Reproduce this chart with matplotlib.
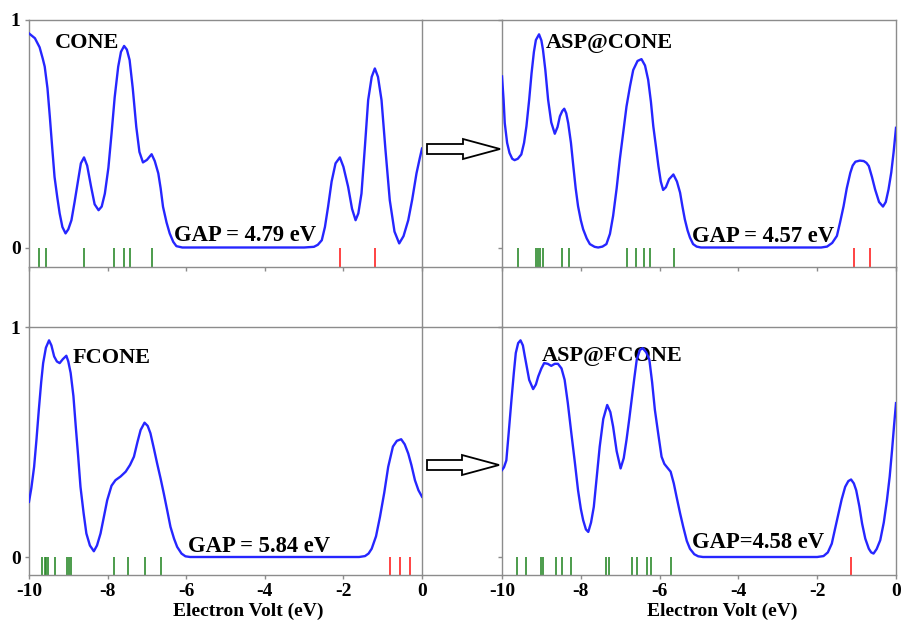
import matplotlib
matplotlib.use("Agg")
import matplotlib.pyplot as plt
from matplotlib.lines import Line2D
from matplotlib.patches import FancyArrow

W, H = 901, 621
plt.rcParams["axes.unicode_minus"] = False

#### DATA ####

# CONE
cone_e = [-10.0, -9.85, -9.73, -9.65, -9.6, -9.53, -9.47, -9.41, -9.35, -9.28, -9.22, -9.15, -9.07, -9.0,
          -8.92, -8.84, -8.75, -8.68, -8.6, -8.52, -8.42, -8.33, -8.23, -8.15, -8.07, -7.98, -7.9, -7.82,
          -7.73, -7.66, -7.58, -7.51, -7.44, -7.36, -7.27, -7.19, -7.1, -7.0, -6.88, -6.8, -6.71, -6.65,
          -6.59, -6.5, -6.42, -6.33, -6.25, -6.1, -3.0, -2.75, -2.65, -2.55, -2.47, -2.39, -2.3, -2.2,
          -2.09, -2.0, -1.88, -1.78, -1.69, -1.62, -1.54, -1.45, -1.37, -1.28, -1.2, -1.12, -1.03, -0.93,
          -0.82, -0.7, -0.58, -0.47, -0.35, -0.25, -0.14, -0.06, 0.0]
cone_dos = [0.941, 0.92, 0.88, 0.83, 0.795, 0.70, 0.575, 0.44, 0.31, 0.22, 0.15, 0.09, 0.062, 0.08,
            0.12, 0.20, 0.296, 0.37, 0.396, 0.36, 0.267, 0.19, 0.164, 0.18, 0.237, 0.35, 0.50, 0.66,
            0.795, 0.86, 0.886, 0.87, 0.824, 0.70, 0.53, 0.42, 0.374, 0.385, 0.41, 0.38, 0.326, 0.26,
            0.179, 0.11, 0.062, 0.025, 0.006, 0.0, 0.0, 0.003, 0.012, 0.032, 0.09, 0.179, 0.29, 0.37,
            0.396, 0.355, 0.267, 0.17, 0.12, 0.15, 0.237, 0.45, 0.648, 0.75, 0.787, 0.75, 0.648, 0.43,
            0.208, 0.07, 0.018, 0.05, 0.12, 0.21, 0.326, 0.39, 0.435]
cone_occ = [-9.745, -9.56, -8.61, -7.835, -7.58, -7.42, -6.86]
cone_virt = [-2.09, -1.2]

# ASP@CONE
asp_cone_e = [-10.0, -9.96, -9.93, -9.87, -9.81, -9.74, -9.68, -9.6, -9.51, -9.44, -9.38, -9.31, -9.25,
              -9.19, -9.14, -9.06, -9.0, -8.96, -8.9, -8.83, -8.75, -8.66, -8.59, -8.53, -8.47, -8.42,
              -8.37, -8.32, -8.25, -8.19, -8.13, -8.07, -8.0, -7.94, -7.85, -7.77, -7.65, -7.56, -7.45,
              -7.35, -7.26, -7.18, -7.09, -7.01, -6.92, -6.84, -6.75, -6.67, -6.56, -6.46, -6.37, -6.29,
              -6.22, -6.16, -6.09, -6.03, -5.97, -5.91, -5.84, -5.76, -5.65, -5.56, -5.48, -5.42, -5.36,
              -5.29, -5.23, -5.15, -5.06, -4.95, -1.9, -1.75, -1.62, -1.5, -1.42, -1.33, -1.25, -1.16,
              -1.1, -1.03, -0.92, -0.82, -0.75, -0.69, -0.61, -0.53, -0.43, -0.33, -0.26, -0.19, -0.12,
              -0.06, 0.0]
asp_cone_dos = [0.752, 0.65, 0.547, 0.46, 0.416, 0.39, 0.384, 0.39, 0.409, 0.46, 0.533, 0.65, 0.766,
                0.86, 0.912, 0.937, 0.91, 0.869, 0.78, 0.65, 0.55, 0.50, 0.53, 0.577, 0.60, 0.61,
                0.59, 0.547, 0.46, 0.358, 0.26, 0.182, 0.12, 0.08, 0.04, 0.015, 0.003, 0.0, 0.004,
                0.015, 0.06, 0.139, 0.26, 0.387, 0.51, 0.62, 0.71, 0.78, 0.82, 0.828, 0.80, 0.737,
                0.64, 0.533, 0.44, 0.358, 0.29, 0.253, 0.265, 0.30, 0.321, 0.29, 0.241, 0.18, 0.124,
                0.075, 0.044, 0.015, 0.004, 0.0, 0.0, 0.004, 0.02, 0.051, 0.11, 0.182, 0.26, 0.328,
                0.36, 0.377, 0.382, 0.38, 0.372, 0.358, 0.31, 0.255, 0.20, 0.18, 0.20, 0.255, 0.33,
                0.42, 0.526]
asp_cone_occ = [-9.59, -9.127, -9.085, -9.04, -8.96, -8.47, -8.31, -6.82, -6.60, -6.39, -6.25, -5.64]
asp_cone_virt = [-1.06, -0.65]

# FCONE
fcone_e = [-10.0, -9.94, -9.87, -9.81, -9.75, -9.69, -9.64, -9.57, -9.49, -9.43, -9.36, -9.29, -9.22,
           -9.14, -9.05, -9.0, -8.94, -8.87, -8.81, -8.75, -8.69, -8.61, -8.54, -8.45, -8.35, -8.27,
           -8.18, -8.1, -8.01, -7.9, -7.8, -7.67, -7.54, -7.43, -7.33, -7.24, -7.16, -7.06, -6.98,
           -6.91, -6.82, -6.74, -6.65, -6.57, -6.48, -6.4, -6.31, -6.23, -6.12, -6.02, -5.9, -1.6,
           -1.45, -1.36, -1.28, -1.17, -1.07, -0.96, -0.86, -0.74, -0.64, -0.53, -0.44, -0.35, -0.27,
           -0.18, -0.09, 0.0]
fcone_dos = [0.24, 0.30, 0.392, 0.51, 0.64, 0.76, 0.843, 0.91, 0.942, 0.92, 0.872, 0.85, 0.843,
             0.86, 0.875, 0.85, 0.80, 0.70, 0.567, 0.44, 0.305, 0.19, 0.102, 0.05, 0.025, 0.05,
             0.102, 0.17, 0.247, 0.31, 0.334, 0.35, 0.371, 0.40, 0.436, 0.50, 0.552, 0.584, 0.57,
             0.538, 0.47, 0.407, 0.34, 0.276, 0.20, 0.131, 0.08, 0.044, 0.015, 0.003, 0.0, 0.0,
             0.004, 0.015, 0.036, 0.09, 0.174, 0.28, 0.392, 0.48, 0.505, 0.512, 0.49, 0.45, 0.40,
             0.334, 0.29, 0.262]
fcone_occ = [-9.66, -9.60, -9.56, -9.51, -9.35, -9.03, -8.98, -8.94, -7.84, -7.49, -7.06, -6.63]
fcone_virt = [-0.81, -0.56, -0.30]

# ASP@FCONE
asp_fcone_e = [-10.0, -9.95, -9.89, -9.83, -9.76, -9.7, -9.65, -9.59, -9.53, -9.47, -9.42, -9.31, -9.21,
               -9.14, -9.08, -9.0, -8.93, -8.84, -8.75, -8.66, -8.58, -8.49, -8.41, -8.33, -8.24, -8.15,
               -8.07, -8.0, -7.94, -7.87, -7.81, -7.74, -7.67, -7.6, -7.52, -7.43, -7.33, -7.25, -7.18,
               -7.09, -6.99, -6.91, -6.84, -6.77, -6.71, -6.64, -6.58, -6.5, -6.43, -6.34, -6.26, -6.19,
               -6.12, -6.03, -5.95, -5.88, -5.82, -5.72, -5.64, -5.57, -5.48, -5.4, -5.31, -5.23, -5.12,
               -5.02, -4.9, -2.0, -1.84, -1.73, -1.63, -1.55, -1.46, -1.38, -1.29, -1.21, -1.14, -1.07,
               -1.01, -0.93, -0.86, -0.78, -0.69, -0.63, -0.57, -0.49, -0.4, -0.31, -0.23, -0.16, -0.1,
               -0.05, 0.0]
asp_fcone_dos = [0.378, 0.39, 0.42, 0.54, 0.683, 0.80, 0.887, 0.93, 0.942, 0.92, 0.872, 0.77, 0.73,
                 0.75, 0.785, 0.82, 0.843, 0.84, 0.831, 0.84, 0.84, 0.82, 0.77, 0.67, 0.538, 0.41,
                 0.29, 0.21, 0.16, 0.12, 0.109, 0.15, 0.218, 0.34, 0.48, 0.60, 0.661, 0.63, 0.567,
                 0.46, 0.385, 0.43, 0.509, 0.60, 0.683, 0.78, 0.858, 0.90, 0.908, 0.89, 0.858, 0.76,
                 0.64, 0.53, 0.436, 0.405, 0.392, 0.371, 0.32, 0.262, 0.19, 0.131, 0.07, 0.036, 0.012,
                 0.003, 0.0, 0.0, 0.004, 0.02, 0.058, 0.12, 0.189, 0.25, 0.305, 0.33, 0.337, 0.32,
                 0.29, 0.22, 0.145, 0.08, 0.036, 0.02, 0.015, 0.035, 0.073, 0.15, 0.247, 0.35, 0.465,
                 0.57, 0.669]
asp_fcone_occ = [-9.61, -9.40, -9.02, -8.96, -8.62, -8.47, -8.24, -7.37, -7.29, -6.71, -6.58, -6.31,
                 -6.23, -5.72]
asp_fcone_virt = [-1.14]

names = ["CONE", "ASP@CONE", "FCONE", "ASP@FCONE"]
gaps = ["GAP = 4.79 eV", "GAP = 4.57 eV", "GAP = 5.84 eV", "GAP=4.58 eV"]
x_ticks = [-10, -8, -6, -4, -2, 0]

###########################################################
####  LAYOUT STUFF (pixel boxes of the four panels) ########

boxes = [(29, 422, 20, 267, 247.5), (502, 896, 20, 267, 247.5),
         (29, 422, 327, 575, 557), (502, 896, 327, 575, 557)]
# label positions: name (x, y) and gap (x, y) in data units
name_pos = [(-9.34, 0.877), (-8.88, 0.877), (-8.88, 0.843), (-8.98, 0.852)]
gap_pos = [(-6.31, 0.029), (-5.18, 0.024), (-5.95, 0.022), (-5.18, 0.039)]

serif = "Liberation Serif"
grey = "#8c8c8c"
blue = "#2626ff"
green = "#2e8b2e"
red = "#ff2222"


def fx(x):
    return x / W


def fy(y):
    return 1 - y / H


fig = plt.figure(figsize=(W / 100, H / 100), dpi=100)

curves = [(cone_e, cone_dos, cone_occ, cone_virt),
          (asp_cone_e, asp_cone_dos, asp_cone_occ, asp_cone_virt),
          (fcone_e, fcone_dos, fcone_occ, fcone_virt),
          (asp_fcone_e, asp_fcone_dos, asp_fcone_occ, asp_fcone_virt)]

for i, (l, r, t, b, z) in enumerate(boxes):
    ax = fig.add_axes([fx(l), fy(b), fx(r) - fx(l), fy(t) - fy(b)])
    e, dos, occ, virt = curves[i]
    ymin = -(b - z) / (z - t)
    ax.set_xlim(-10, 0)
    ax.set_ylim(ymin, 1)

    ax.plot(e, dos, color=blue, lw=1.7, zorder=3, solid_joinstyle="round")
    ax.vlines(occ, ymin, 0, color=green, lw=1.2)
    ax.vlines(virt, ymin, 0, color=red, lw=1.2)

    ax.text(name_pos[i][0], name_pos[i][1], names[i], family=serif, weight="bold",
            fontsize=16, va="baseline", zorder=2)
    ax.text(gap_pos[i][0], gap_pos[i][1], gaps[i], family=serif, weight="bold",
            fontsize=16.3, va="baseline", zorder=2)

    for s in ax.spines.values():
        s.set_color(grey)
        s.set_linewidth(1)
    ax.set_xticks(x_ticks)
    ax.set_yticks([0, 1])
    ax.tick_params(direction="out", length=3, color=grey, width=1, pad=3)
    for lab in ax.get_xticklabels() + ax.get_yticklabels():
        lab.set_family(serif)
        lab.set_weight("bold")
        lab.set_fontsize(14)
    if i < 2:
        ax.tick_params(labelbottom=False)
    if i % 2 == 1:
        ax.tick_params(labelleft=False)

# x labels (slightly right of panel centre, as in the original)
for cx in (248, 722):
    fig.text(fx(cx), fy(611), "Electron Volt (eV)", family=serif, weight="bold",
             fontsize=14, ha="center", va="center")

# grid lines joining the panels
for y in (20, 267, 327, 575):
    fig.add_artist(Line2D([fx(422), fx(502)], [fy(y), fy(y)], color=grey, lw=1))
for x in (29, 422, 502, 896):
    fig.add_artist(Line2D([fx(x), fx(x)], [fy(267), fy(327)], color=grey, lw=1))

# open arrows between panels
for ay, tip in ((149, 500), (465, 499)):
    fig.add_artist(FancyArrow(fx(427), fy(ay), fx(tip) - fx(427), 0, width=10 / H,
                              head_width=20 / H, head_length=37 / W,
                              length_includes_head=True, facecolor="white",
                              edgecolor="black", lw=1.3, transform=fig.transFigure))

fig.savefig("out.png", dpi=100)
